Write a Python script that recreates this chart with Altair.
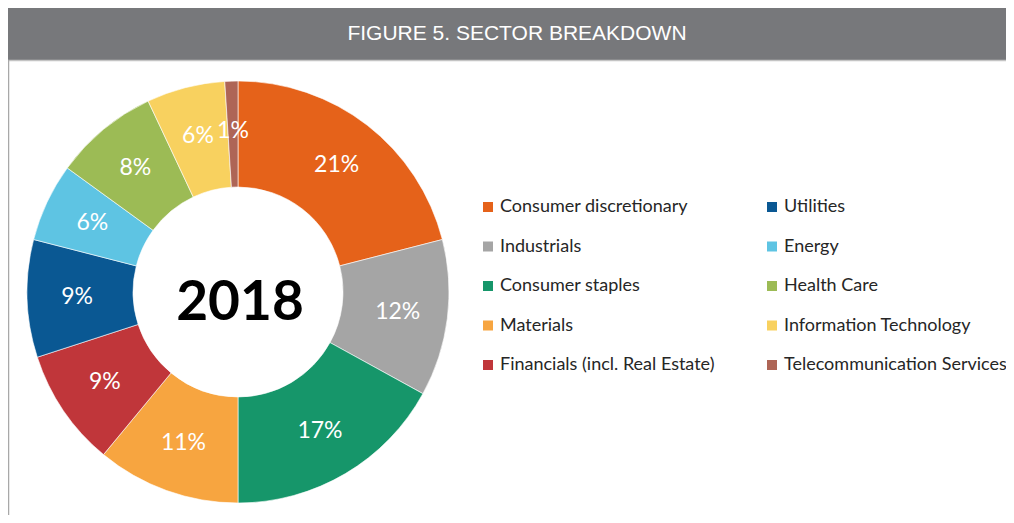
import altair as alt
import pandas as pd

# Pie order (clockwise from 12 o'clock); the legend fills column by column in the same order
sectors = ["Consumer discretionary", "Industrials", "Consumer staples", "Materials",
           "Financials (incl. Real Estate)", "Utilities", "Energy", "Health Care",
           "Information Technology", "Telecommunication Services"]
shares = [21, 12, 17, 11, 9, 9, 6, 8, 6, 1]
colors = ["#E5621A", "#A5A5A5", "#16966A", "#F7A540", "#C0363A",
          "#0A5893", "#5EC4E3", "#9CBB55", "#F8D15F", "#AE6556"]
title_text = "FIGURE 5. SECTOR BREAKDOWN"
center_text = "2018"

df = pd.DataFrame({"sector": sectors, "share": shares, "idx": list(range(len(sectors)))})
df["label"] = df["share"].astype(str) + "%"

W, H = 998, 507
CX, CY = 230, 284
FONT = "Lato"

base = alt.Chart(df)

arcs = base.mark_arc(innerRadius=105, outerRadius=211, stroke="white", strokeWidth=0.6).encode(
    theta=alt.Theta("share:Q", stack=True),
    order=alt.Order("idx:Q"),
    color=alt.Color("sector:N",
                    scale=alt.Scale(domain=sectors, range=colors),
                    legend=alt.Legend(title=None, orient="none", legendX=471, legendY=190,
                                      columns=2, symbolType="square", symbolSize=100,
                                      symbolStrokeWidth=0, labelFont=FONT, labelFontSize=18,
                                      labelColor="#262626", labelOffset=3, rowPadding=21.5,
                                      columnPadding=48, labelLimit=400)),
    x=alt.value(CX), y=alt.value(CY),
)

labels = base.mark_text(radius=161, font=FONT, fontSize=23, color="white",
                        align="center", baseline="middle").encode(
    theta=alt.Theta("share:Q", stack=True),
    order=alt.Order("idx:Q"),
    text="label:N",
    x=alt.value(CX), y=alt.value(CY),
)

center = alt.Chart(pd.DataFrame({"t": [center_text]})).mark_text(
    font=FONT, fontSize=55, fontWeight="bold", color="black", align="center", baseline="middle"
).encode(text="t:N", x=alt.value(CX + 2), y=alt.value(CY + 11))

one = pd.DataFrame({"t": [title_text]})
header = alt.Chart(one).mark_rect(color="#77787B").encode(
    x=alt.value(0), x2=alt.value(W), y=alt.value(0), y2=alt.value(52))
header_line = alt.Chart(one).mark_rule(color="#C4C4C4", strokeWidth=1.5).encode(
    x=alt.value(0), x2=alt.value(W), y=alt.value(52.5))
left_line = alt.Chart(one).mark_rule(color="#A8A8A8", strokeWidth=1.5).encode(
    x=alt.value(0.5), y=alt.value(52), y2=alt.value(H + 10))
header_text = alt.Chart(one).mark_text(
    font="Liberation Sans", fontSize=21, color="white", align="center", baseline="middle"
).encode(text="t:N", x=alt.value(509), y=alt.value(26))

chart = alt.layer(header, header_line, left_line, header_text, arcs, labels, center).properties(
    width=W, height=H, autosize=alt.AutoSizeParams(type="none"), padding=0
).configure_view(stroke=None).configure(background="white")

chart.save("out.html", embed_options={"renderer": "svg", "actions": False})
